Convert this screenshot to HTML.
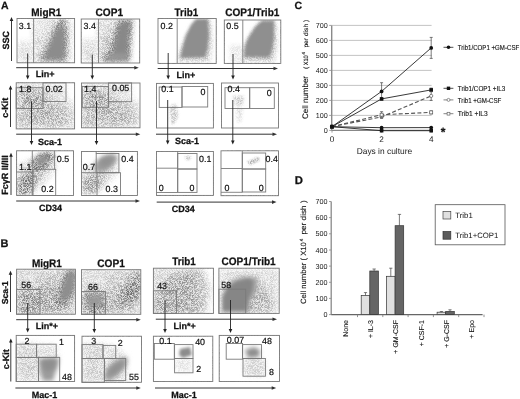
<!DOCTYPE html><html><head><meta charset="utf-8"><style>html,body{margin:0;padding:0;background:#fff;}svg{display:block;font-family:"Liberation Sans",sans-serif;-webkit-font-smoothing:antialiased;text-rendering:geometricPrecision;filter:grayscale(1);}</style></head><body>
<svg width="520" height="399" viewBox="0 0 520 399">
<rect width="520" height="399" fill="#fff"/>
<defs><filter id="spk" x="0" y="0" width="100%" height="100%" color-interpolation-filters="sRGB"><feTurbulence type="fractalNoise" baseFrequency="2.2" numOctaves="1" seed="7" result="t"/><feColorMatrix in="t" type="matrix" values="4 0 0 0 -1.5  4 0 0 0 -1.5  4 0 0 0 -1.5  0 0 0 0 1" result="n0"/><feGaussianBlur in="n0" stdDeviation="0.35" result="n"/><feComposite in="SourceGraphic" in2="n" operator="arithmetic" k1="-1.25" k2="1.625" k3="1.25" k4="-0.625"/></filter><filter id="b10" x="-50%" y="-50%" width="200%" height="200%"><feGaussianBlur stdDeviation="1.0"/></filter><filter id="b12" x="-50%" y="-50%" width="200%" height="200%"><feGaussianBlur stdDeviation="1.2"/></filter><filter id="b15" x="-50%" y="-50%" width="200%" height="200%"><feGaussianBlur stdDeviation="1.5"/></filter><filter id="b16" x="-50%" y="-50%" width="200%" height="200%"><feGaussianBlur stdDeviation="1.6"/></filter><filter id="b18" x="-50%" y="-50%" width="200%" height="200%"><feGaussianBlur stdDeviation="1.8"/></filter><filter id="b20" x="-50%" y="-50%" width="200%" height="200%"><feGaussianBlur stdDeviation="2.0"/></filter><filter id="b22" x="-50%" y="-50%" width="200%" height="200%"><feGaussianBlur stdDeviation="2.2"/></filter><filter id="b25" x="-50%" y="-50%" width="200%" height="200%"><feGaussianBlur stdDeviation="2.5"/></filter><filter id="b30" x="-50%" y="-50%" width="200%" height="200%"><feGaussianBlur stdDeviation="3.0"/></filter></defs>
<text x="0.9" y="8.6" font-size="10.5" font-weight="bold" text-anchor="start" fill="#111" stroke="#111" stroke-width="0.25">A</text>
<text x="46.3" y="15.6" font-size="10.9" font-weight="bold" text-anchor="middle" fill="#111" stroke="#111" stroke-width="0.25" textLength="30.0" lengthAdjust="spacingAndGlyphs">MigR1</text>
<text x="109.3" y="15.6" font-size="10.9" font-weight="bold" text-anchor="middle" fill="#111" stroke="#111" stroke-width="0.25" textLength="27.6" lengthAdjust="spacingAndGlyphs">COP1</text>
<text x="186.4" y="15.6" font-size="10.9" font-weight="bold" text-anchor="middle" fill="#111" stroke="#111" stroke-width="0.25" textLength="23.6" lengthAdjust="spacingAndGlyphs">Trib1</text>
<text x="252.3" y="15.6" font-size="10.9" font-weight="bold" text-anchor="middle" fill="#111" stroke="#111" stroke-width="0.25" textLength="54.2" lengthAdjust="spacingAndGlyphs">COP1/Trib1</text>
<clipPath id="c1"><rect x="17" y="18.5" width="57.599999999999994" height="44.3"/></clipPath>
<g clip-path="url(#c1)"><g filter="url(#spk)"><rect x="17" y="18.5" width="57.599999999999994" height="44.3" fill="#fff"/>
<path d="M34,19 L60,19 L70,30 L70,62 L34,62Z" fill="#dcdcdc" opacity="1" filter="url(#b30)"/>
<path d="M34,19 L50,19 L46,32 L34,36Z" fill="#ececec" opacity="1" filter="url(#b30)"/>
<path d="M66,19 L74,19 L74,40 L70,36Z" fill="#f2f2f2" opacity="1" filter="url(#b20)"/>
<path d="M18,42 L33,42 L33,62 L18,62Z" fill="#e6e6e6" opacity="1" filter="url(#b30)"/>
<path d="M38,61 L44,52 L50,40 L55,28 L58,19 L67,19 L68,35 L67,50 L66,61Z" fill="#adadad" opacity="1" filter="url(#b25)"/>
</g>
<path d="M43,60 L47,50 L51,40 L55,31 L60,25 L64,25 L65,38 L65,52 L64,60Z" fill="#8c8c8c" opacity="1" filter="url(#b20)"/>
</g>
<clipPath id="c2"><rect x="81.2" y="19" width="58.499999999999986" height="44"/></clipPath>
<g clip-path="url(#c2)"><g filter="url(#spk)"><rect x="81.2" y="19" width="58.499999999999986" height="44" fill="#fff"/>
<path d="M99,19 L122,19 L116,45 L112,62 L99,62Z" fill="#d4d4d4" opacity="1" filter="url(#b30)"/>
<path d="M99,19 L112,19 L108,34 L99,36Z" fill="#e6e6e6" opacity="1" filter="url(#b30)"/>
<path d="M82,40 L98,40 L98,62 L82,62Z" fill="#e2e2e2" opacity="1" filter="url(#b30)"/>
<path d="M100,61 L108,52 L112,40 L116,28 L119,19 L133,19 L132,35 L130,61Z" fill="#a8a8a8" opacity="1" filter="url(#b25)"/>
</g>
<path d="M112,58 L114,45 L117,32 L120,22 L131,21 L129,35 L128,50 L127,58Z" fill="#888888" opacity="1" filter="url(#b20)"/>
<path d="M103,61 L107,56 L114,53 L128,53 L128,61Z" fill="#959595" opacity="1" filter="url(#b20)"/>
</g>
<clipPath id="c3"><rect x="158" y="18.5" width="58.19999999999999" height="44.9"/></clipPath>
<g clip-path="url(#c3)"><g filter="url(#spk)"><rect x="158" y="18.5" width="58.19999999999999" height="44.9" fill="#fff"/>
<path d="M178,62 L180,50 L186,36 L194,24 L198,19 L211,19 L212,45 L210,62Z" fill="#dadada" opacity="1" filter="url(#b20)"/>
</g>
<path d="M180,58 L183,45 L186,35 L191,25 L196,19 L208,19 L209,35 L207.5,50 L205,57.5Z" fill="#8e8e8e" opacity="1" filter="url(#b16)"/>
</g>
<clipPath id="c4"><rect x="224.3" y="20" width="56.5" height="43.4"/></clipPath>
<g clip-path="url(#c4)"><g filter="url(#spk)"><rect x="224.3" y="20" width="56.5" height="43.4" fill="#fff"/>
<path d="M240,62 L244,46 L252,32 L260,22 L276,21 L277,45 L274,62Z" fill="#d6d6d6" opacity="1" filter="url(#b20)"/>
<path d="M230,45 L242,45 L242,62 L230,62Z" fill="#efefef" opacity="1" filter="url(#b20)"/>
</g>
<path d="M244,57 L245,46 L248,38 L255,27 L262,20.5 L274,20.5 L274,40 L271,55 L268,57.5Z" fill="#8f8f8f" opacity="1" filter="url(#b18)"/>
</g>
<rect x="17.0" y="18.5" width="57.6" height="44.3" fill="none" stroke="#7a7a7a" stroke-width="0.9"/>
<line x1="33.6" y1="18.5" x2="33.6" y2="62.8" stroke="#7a7a7a" stroke-width="0.9" />
<rect x="81.2" y="19.0" width="58.5" height="44.0" fill="none" stroke="#7a7a7a" stroke-width="0.9"/>
<line x1="98.5" y1="19.0" x2="98.5" y2="63.0" stroke="#7a7a7a" stroke-width="0.9" />
<rect x="158.0" y="18.5" width="58.2" height="44.9" fill="none" stroke="#7a7a7a" stroke-width="0.9"/>
<line x1="177.2" y1="18.5" x2="177.2" y2="63.4" stroke="#7a7a7a" stroke-width="0.9" />
<rect x="224.3" y="20.0" width="56.5" height="43.4" fill="none" stroke="#7a7a7a" stroke-width="0.9"/>
<line x1="242.8" y1="20.0" x2="242.8" y2="63.4" stroke="#7a7a7a" stroke-width="0.9" />
<text x="18.8" y="28.6" font-size="8.9" fill="#111" stroke="#111" stroke-width="0.2">3.1</text>
<text x="83.6" y="28.6" font-size="8.9" fill="#111" stroke="#111" stroke-width="0.2">3.4</text>
<text x="160.6" y="28.6" font-size="8.9" fill="#111" stroke="#111" stroke-width="0.2">0.2</text>
<text x="226.3" y="29.2" font-size="8.9" fill="#111" stroke="#111" stroke-width="0.2">0.5</text>
<line x1="11.5" y1="61.0" x2="11.5" y2="20.0" stroke="#222" stroke-width="0.9" />
<path d="M9.7,21.0 L13.3,21.0 L11.5,17.0Z" fill="#222"/>
<text transform="translate(5.4,40.3) rotate(-90)" x="0" y="3.24" font-size="9" font-weight="bold" text-anchor="middle" fill="#111" stroke="#111" stroke-width="0.25">SSC</text>
<line x1="16.2" y1="67.7" x2="135.8" y2="67.7" stroke="#333" stroke-width="1.0" />
<path d="M134.3,65.9 L134.3,69.5 L138.8,67.7Z" fill="#333"/>
<line x1="157.7" y1="68.5" x2="275.0" y2="68.5" stroke="#333" stroke-width="1.0" />
<path d="M273.5,66.7 L273.5,70.3 L278.0,68.5Z" fill="#333"/>
<text x="45.2" y="77.4" font-size="9" font-weight="bold" text-anchor="middle" fill="#111" stroke="#111" stroke-width="0.25">Lin+</text>
<text x="186.0" y="77.7" font-size="9" font-weight="bold" text-anchor="middle" fill="#111" stroke="#111" stroke-width="0.25">Lin+</text>
<line x1="27.7" y1="53.5" x2="27.7" y2="76.5" stroke="#222" stroke-width="0.9" />
<path d="M25.9,75.5 L29.5,75.5 L27.7,79.5Z" fill="#222"/>
<line x1="92.3" y1="54.6" x2="92.3" y2="76.5" stroke="#222" stroke-width="0.9" />
<path d="M90.5,75.5 L94.1,75.5 L92.3,79.5Z" fill="#222"/>
<line x1="168.2" y1="53.0" x2="168.2" y2="76.5" stroke="#222" stroke-width="0.9" />
<path d="M166.4,75.5 L170.0,75.5 L168.2,79.5Z" fill="#222"/>
<line x1="233.0" y1="54.0" x2="233.0" y2="76.5" stroke="#222" stroke-width="0.9" />
<path d="M231.2,75.5 L234.8,75.5 L233.0,79.5Z" fill="#222"/>
<clipPath id="c5"><rect x="16.2" y="82.8" width="58.39999999999999" height="46.10000000000001"/></clipPath>
<g clip-path="url(#c5)"><g filter="url(#spk)"><rect x="16.2" y="82.8" width="58.39999999999999" height="46.10000000000001" fill="#fff"/>
<path d="M17,84 L44,84 L60,96 L74,104 L74,128 L17,128Z" fill="#dcdcdc" opacity="1" filter="url(#b30)"/>
<path d="M44,84 L66,84 L66,100 L50,96Z" fill="#e6e6e6" opacity="1" filter="url(#b30)"/>
<path d="M18,90 L42,90 L52,102 L66,110 L72,120 L62,126 L18,126Z" fill="#cdcdcd" opacity="1" filter="url(#b30)"/>
<path d="M21,94 L40,93 L42,106 L24,108Z" fill="#b6b6b6" opacity="1" filter="url(#b25)"/>
<path d="M30,106 L48,104 L62,114 L58,122 L36,120Z" fill="#c4c4c4" opacity="1" filter="url(#b30)"/>
</g>
</g>
<clipPath id="c6"><rect x="81.5" y="83" width="58.5" height="44.8"/></clipPath>
<g clip-path="url(#c6)"><g filter="url(#spk)"><rect x="81.5" y="83" width="58.5" height="44.8" fill="#fff"/>
<path d="M82,84 L109,84 L125,96 L139,104 L139,127 L82,127Z" fill="#dcdcdc" opacity="1" filter="url(#b30)"/>
<path d="M109,84 L131,84 L131,100 L115,96Z" fill="#e6e6e6" opacity="1" filter="url(#b30)"/>
<path d="M83,90 L107,90 L117,102 L131,110 L137,120 L127,126 L83,126Z" fill="#cdcdcd" opacity="1" filter="url(#b30)"/>
<path d="M86,94 L105,93 L107,106 L89,108Z" fill="#b6b6b6" opacity="1" filter="url(#b25)"/>
<path d="M95,106 L113,104 L127,114 L123,122 L101,120Z" fill="#c4c4c4" opacity="1" filter="url(#b30)"/>
</g>
</g>
<clipPath id="c7"><rect x="156.5" y="83.4" width="56.900000000000006" height="44.599999999999994"/></clipPath>
<g clip-path="url(#c7)"><g filter="url(#spk)"><rect x="156.5" y="83.4" width="56.900000000000006" height="44.599999999999994" fill="#fff"/>
<path d="M170,106 L176,104 L178,116 L174,124 L171,124Z" fill="#d6d6d6" opacity="1" filter="url(#b15)"/>
</g>
</g>
<clipPath id="c8"><rect x="221.5" y="83" width="57.0" height="45"/></clipPath>
<g clip-path="url(#c8)"><g filter="url(#spk)"><rect x="221.5" y="83" width="57.0" height="45" fill="#fff"/>
<path d="M233,96 L244,96 L243,105 L235,106Z" fill="#dcdcdc" opacity="1" filter="url(#b15)"/>
<path d="M236,108 L243,108 L241,122 L237,122Z" fill="#e8e8e8" opacity="1" filter="url(#b15)"/>
</g>
</g>
<rect x="16.2" y="82.8" width="58.4" height="46.1" fill="none" stroke="#7a7a7a" stroke-width="0.9"/>
<rect x="16.2" y="87.7" width="26.8" height="20.8" fill="none" stroke="#7a7a7a" stroke-width="0.9"/>
<rect x="43.0" y="82.8" width="23.0" height="18.7" fill="none" stroke="#7a7a7a" stroke-width="0.9"/>
<rect x="81.5" y="83.0" width="58.5" height="44.8" fill="none" stroke="#7a7a7a" stroke-width="0.9"/>
<rect x="82.3" y="86.5" width="26.2" height="20.8" fill="none" stroke="#7a7a7a" stroke-width="0.9"/>
<rect x="108.4" y="82.9" width="23.2" height="18.8" fill="none" stroke="#7a7a7a" stroke-width="0.9"/>
<rect x="156.5" y="83.4" width="56.9" height="44.6" fill="none" stroke="#7a7a7a" stroke-width="0.9"/>
<rect x="159.2" y="87.0" width="22.8" height="20.4" fill="none" stroke="#7a7a7a" stroke-width="0.9"/>
<rect x="182.0" y="86.5" width="25.7" height="20.5" fill="none" stroke="#7a7a7a" stroke-width="0.9"/>
<rect x="221.5" y="83.0" width="57.0" height="45.0" fill="none" stroke="#7a7a7a" stroke-width="0.9"/>
<rect x="225.0" y="87.7" width="24.7" height="20.8" fill="none" stroke="#7a7a7a" stroke-width="0.9"/>
<rect x="249.7" y="87.7" width="24.6" height="20.8" fill="none" stroke="#7a7a7a" stroke-width="0.9"/>
<text x="19.0" y="92.3" font-size="8.9" fill="#111" stroke="#111" stroke-width="0.2">1.8</text>
<text x="45.5" y="92.0" font-size="8.9" fill="#111" stroke="#111" stroke-width="0.2">0.02</text>
<text x="84.0" y="92.2" font-size="8.9" fill="#111" stroke="#111" stroke-width="0.2">1.4</text>
<text x="112.0" y="90.8" font-size="8.9" fill="#111" stroke="#111" stroke-width="0.2">0.05</text>
<text x="161.3" y="92.0" font-size="8.9" fill="#111" stroke="#111" stroke-width="0.2">0.1</text>
<text x="200.6" y="94.6" font-size="8.9" fill="#111" stroke="#111" stroke-width="0.2">0</text>
<text x="227.5" y="92.3" font-size="8.9" fill="#111" stroke="#111" stroke-width="0.2">0.4</text>
<text x="266.8" y="95.7" font-size="8.9" fill="#111" stroke="#111" stroke-width="0.2">0</text>
<line x1="10.5" y1="127.0" x2="10.5" y2="88.4" stroke="#222" stroke-width="0.9" />
<path d="M8.7,89.4 L12.3,89.4 L10.5,85.4Z" fill="#222"/>
<text transform="translate(5.2,107.7) rotate(-90)" x="0" y="3.24" font-size="9" font-weight="bold" text-anchor="middle" fill="#111" stroke="#111" stroke-width="0.25">c-Kit</text>
<line x1="16.2" y1="134.2" x2="137.3" y2="134.2" stroke="#333" stroke-width="1.0" />
<path d="M135.8,132.4 L135.8,136.0 L140.3,134.2Z" fill="#333"/>
<line x1="156.0" y1="134.2" x2="274.0" y2="134.2" stroke="#333" stroke-width="1.0" />
<path d="M272.5,132.4 L272.5,136.0 L277.0,134.2Z" fill="#333"/>
<text x="50.0" y="144.6" font-size="9" font-weight="bold" text-anchor="middle" fill="#111" stroke="#111" stroke-width="0.25">Sca-1</text>
<text x="187.0" y="143.9" font-size="9" font-weight="bold" text-anchor="middle" fill="#111" stroke="#111" stroke-width="0.25">Sca-1</text>
<line x1="31.5" y1="101.5" x2="31.5" y2="142.0" stroke="#222" stroke-width="0.9" />
<path d="M29.7,141.0 L33.3,141.0 L31.5,145.0Z" fill="#222"/>
<line x1="96.5" y1="101.0" x2="96.5" y2="142.0" stroke="#222" stroke-width="0.9" />
<path d="M94.7,141.0 L98.3,141.0 L96.5,145.0Z" fill="#222"/>
<line x1="167.7" y1="100.0" x2="167.7" y2="141.5" stroke="#222" stroke-width="0.9" />
<path d="M165.9,140.5 L169.5,140.5 L167.7,144.5Z" fill="#222"/>
<line x1="232.8" y1="100.0" x2="232.8" y2="141.5" stroke="#222" stroke-width="0.9" />
<path d="M231.0,140.5 L234.6,140.5 L232.8,144.5Z" fill="#222"/>
<clipPath id="c9"><rect x="16.6" y="150.8" width="56.9" height="44.69999999999999"/></clipPath>
<g clip-path="url(#c9)"><g filter="url(#spk)"><rect x="16.6" y="150.8" width="56.9" height="44.69999999999999" fill="#fff"/>
<path d="M18,165 L54,152 L56,170 L36,190 L18,195Z" fill="#e0e0e0" opacity="1" filter="url(#b30)"/>
<path d="M24,182 L32,170 L40,166 L42,176 L34,186Z" fill="#c4c4c4" opacity="1" filter="url(#b25)"/>
<path d="M31,161 L39,154 L50,152 L55,155 L51,164 L42,171 L32,171Z" fill="#a2a2a2" opacity="1" filter="url(#b22)"/>
<path d="M18,178 L32,172 L35,184 L30,195 L18,195Z" fill="#a6a6a6" opacity="1" filter="url(#b25)"/>
</g>
<path d="M35,159 L44,154 L50,156 L46,164 L38,166Z" fill="#939393" opacity="1" filter="url(#b20)"/>
</g>
<clipPath id="c10"><rect x="81.5" y="151.5" width="55.900000000000006" height="44.0"/></clipPath>
<g clip-path="url(#c10)"><g filter="url(#spk)"><rect x="81.5" y="151.5" width="55.900000000000006" height="44.0" fill="#fff"/>
<path d="M82,170 L114,154 L118,172 L100,190 L82,195Z" fill="#e0e0e0" opacity="1" filter="url(#b30)"/>
<path d="M88,184 L96,174 L104,170 L106,180 L98,188Z" fill="#cacaca" opacity="1" filter="url(#b25)"/>
<path d="M83,178 L97,174 L100,186 L94,194 L83,192Z" fill="#bcbcbc" opacity="1" filter="url(#b25)"/>
</g>
<path d="M95,163 L103,156 L114,154 L118,158 L113,166 L104,172 L95,172Z" fill="#9e9e9e" opacity="1" filter="url(#b22)"/>
<path d="M100,160 L110,156 L114,159 L108,166 L101,167Z" fill="#929292" opacity="1" filter="url(#b20)"/>
</g>
<clipPath id="c11"><rect x="156.5" y="151.5" width="56.900000000000006" height="43.900000000000006"/></clipPath>
<g clip-path="url(#c11)"><g filter="url(#spk)"><rect x="156.5" y="151.5" width="56.900000000000006" height="43.900000000000006" fill="#fff"/>
<path d="M185,156 L191,156 L190,160 L186,160Z" fill="#d4d4d4" opacity="1" filter="url(#b10)"/>
</g>
</g>
<clipPath id="c12"><rect x="221" y="150.8" width="57.5" height="44.89999999999998"/></clipPath>
<g clip-path="url(#c12)"><g filter="url(#spk)"><rect x="221" y="150.8" width="57.5" height="44.89999999999998" fill="#fff"/>
<path d="M247,162 L258,157 L260,160 L250,165Z" fill="#c6c6c6" opacity="1" filter="url(#b12)"/>
</g>
</g>
<rect x="16.6" y="150.8" width="56.9" height="44.7" fill="none" stroke="#7a7a7a" stroke-width="0.9"/>
<line x1="32.3" y1="150.8" x2="32.3" y2="195.5" stroke="#7a7a7a" stroke-width="0.9" />
<line x1="54.6" y1="150.8" x2="54.6" y2="169.4" stroke="#7a7a7a" stroke-width="0.9" />
<line x1="16.6" y1="172.0" x2="32.3" y2="172.0" stroke="#7a7a7a" stroke-width="0.9" />
<rect x="33.0" y="169.3" width="22.7" height="26.2" fill="none" stroke="#7a7a7a" stroke-width="0.9"/>
<rect x="81.5" y="151.5" width="55.9" height="44.0" fill="none" stroke="#7a7a7a" stroke-width="0.9"/>
<rect x="96.2" y="153.5" width="22.7" height="19.2" fill="none" stroke="#7a7a7a" stroke-width="0.9"/>
<rect x="97.0" y="172.7" width="23.5" height="22.8" fill="none" stroke="#7a7a7a" stroke-width="0.9"/>
<line x1="81.5" y1="172.7" x2="96.2" y2="172.7" stroke="#7a7a7a" stroke-width="0.9" />
<line x1="96.2" y1="151.5" x2="96.2" y2="153.5" stroke="#7a7a7a" stroke-width="0.9" />
<rect x="156.5" y="151.5" width="56.9" height="43.9" fill="none" stroke="#7a7a7a" stroke-width="0.9"/>
<line x1="177.7" y1="151.5" x2="177.7" y2="192.4" stroke="#7a7a7a" stroke-width="0.9" />
<line x1="156.5" y1="168.2" x2="177.7" y2="168.2" stroke="#7a7a7a" stroke-width="0.9" />
<rect x="177.7" y="153.5" width="19.3" height="15.5" fill="none" stroke="#7a7a7a" stroke-width="0.9"/>
<rect x="177.7" y="169.0" width="19.3" height="23.4" fill="none" stroke="#7a7a7a" stroke-width="0.9"/>
<line x1="156.5" y1="192.5" x2="177.7" y2="192.5" stroke="#7a7a7a" stroke-width="0.9" />
<rect x="221.0" y="150.8" width="57.5" height="44.9" fill="none" stroke="#7a7a7a" stroke-width="0.9"/>
<line x1="242.3" y1="150.8" x2="242.3" y2="192.3" stroke="#7a7a7a" stroke-width="0.9" />
<line x1="221.0" y1="168.5" x2="242.3" y2="168.5" stroke="#7a7a7a" stroke-width="0.9" />
<rect x="242.3" y="153.0" width="23.4" height="16.0" fill="none" stroke="#7a7a7a" stroke-width="0.9"/>
<rect x="242.3" y="169.0" width="23.4" height="23.0" fill="none" stroke="#7a7a7a" stroke-width="0.9"/>
<line x1="221.0" y1="192.3" x2="242.3" y2="192.3" stroke="#7a7a7a" stroke-width="0.9" />
<text x="19.0" y="169.6" font-size="8.9" fill="#111" stroke="#111" stroke-width="0.2">1.1</text>
<text x="56.8" y="162.0" font-size="8.9" fill="#111" stroke="#111" stroke-width="0.2">0.5</text>
<text x="41.3" y="192.0" font-size="8.9" fill="#111" stroke="#111" stroke-width="0.2">0.2</text>
<text x="82.8" y="170.0" font-size="8.9" fill="#111" stroke="#111" stroke-width="0.2">0.7</text>
<text x="121.3" y="162.0" font-size="8.9" fill="#111" stroke="#111" stroke-width="0.2">0.4</text>
<text x="105.5" y="191.5" font-size="8.9" fill="#111" stroke="#111" stroke-width="0.2">0.3</text>
<text x="199.0" y="162.3" font-size="8.9" fill="#111" stroke="#111" stroke-width="0.2">0.1</text>
<text x="158.8" y="190.8" font-size="8.9" fill="#111" stroke="#111" stroke-width="0.2">0</text>
<text x="189.5" y="190.8" font-size="8.9" fill="#111" stroke="#111" stroke-width="0.2">0</text>
<text x="265.5" y="161.5" font-size="8.9" fill="#111" stroke="#111" stroke-width="0.2">0.4</text>
<text x="224.4" y="190.8" font-size="8.9" fill="#111" stroke="#111" stroke-width="0.2">0</text>
<text x="258.8" y="190.8" font-size="8.9" fill="#111" stroke="#111" stroke-width="0.2">0</text>
<line x1="11.0" y1="195.0" x2="11.0" y2="155.7" stroke="#222" stroke-width="0.9" />
<path d="M9.2,156.7 L12.8,156.7 L11.0,152.7Z" fill="#222"/>
<text transform="translate(4.6,175.0) rotate(-90)" x="0" y="3.24" font-size="9" font-weight="bold" text-anchor="middle" fill="#111" stroke="#111" stroke-width="0.25">Fc&#947;R II/III</text>
<line x1="16.2" y1="201.0" x2="137.0" y2="201.0" stroke="#333" stroke-width="1.0" />
<path d="M135.5,199.2 L135.5,202.8 L140.0,201.0Z" fill="#333"/>
<line x1="156.7" y1="202.1" x2="273.5" y2="202.1" stroke="#333" stroke-width="1.0" />
<path d="M272.0,200.3 L272.0,203.9 L276.5,202.1Z" fill="#333"/>
<text x="50.4" y="210.8" font-size="9" font-weight="bold" text-anchor="middle" fill="#111" stroke="#111" stroke-width="0.25">CD34</text>
<text x="183.3" y="212.0" font-size="9" font-weight="bold" text-anchor="middle" fill="#111" stroke="#111" stroke-width="0.25">CD34</text>
<text x="0.6" y="246.8" font-size="11" font-weight="bold" text-anchor="start" fill="#111" stroke="#111" stroke-width="0.25">B</text>
<text x="46.9" y="267.4" font-size="10.9" font-weight="bold" text-anchor="middle" fill="#111" stroke="#111" stroke-width="0.25" textLength="30.0" lengthAdjust="spacingAndGlyphs">MigR1</text>
<text x="111.1" y="266.6" font-size="10.9" font-weight="bold" text-anchor="middle" fill="#111" stroke="#111" stroke-width="0.25" textLength="27.6" lengthAdjust="spacingAndGlyphs">COP1</text>
<text x="184.0" y="265.3" font-size="10.9" font-weight="bold" text-anchor="middle" fill="#111" stroke="#111" stroke-width="0.25" textLength="23.6" lengthAdjust="spacingAndGlyphs">Trib1</text>
<text x="248.6" y="265.4" font-size="10.9" font-weight="bold" text-anchor="middle" fill="#111" stroke="#111" stroke-width="0.25" textLength="54.2" lengthAdjust="spacingAndGlyphs">COP1/Trib1</text>
<clipPath id="c13"><rect x="16.6" y="269.2" width="58.800000000000004" height="45.0"/></clipPath>
<g clip-path="url(#c13)"><g filter="url(#spk)"><rect x="16.6" y="269.2" width="58.800000000000004" height="45.0" fill="#fff"/>
<path d="M17,270 L75,270 L75,314 L17,314Z" fill="#d2d2d2" opacity="1" filter="url(#b30)"/>
<path d="M17,270 L40,270 L36,285 L17,288Z" fill="#e2e2e2" opacity="1" filter="url(#b30)"/>
<path d="M18,292 L40,290 L44,313 L18,313Z" fill="#b2b2b2" opacity="1" filter="url(#b30)"/>
<path d="M38,285 L58,286 L60,312 L40,312Z" fill="#bebebe" opacity="1" filter="url(#b30)"/>
<path d="M54,308 L57,294 L62,280 L66,270 L75,270 L75,290 L70,302 L64,310Z" fill="#a6a6a6" opacity="1" filter="url(#b30)"/>
</g>
<path d="M59,303 L61,290 L65,278 L69,270 L75,271 L75,286 L70,298Z" fill="#8e8e8e" opacity="1" filter="url(#b22)"/>
</g>
<clipPath id="c14"><rect x="81.5" y="269.7" width="59.30000000000001" height="44.60000000000002"/></clipPath>
<g clip-path="url(#c14)"><g filter="url(#spk)"><rect x="81.5" y="269.7" width="59.30000000000001" height="44.60000000000002" fill="#fff"/>
<path d="M82,270 L141,270 L141,314 L82,314Z" fill="#d6d6d6" opacity="1" filter="url(#b30)"/>
<path d="M82,270 L110,270 L104,285 L82,288Z" fill="#e4e4e4" opacity="1" filter="url(#b30)"/>
<path d="M83,293 L104,292 L106,313 L83,313Z" fill="#a4a4a4" opacity="1" filter="url(#b30)"/>
<path d="M106,300 L115,290 L125,282 L135,272 L141,272 L141,295 L130,310 L110,312Z" fill="#c2c2c2" opacity="1" filter="url(#b30)"/>
<path d="M119,304 L124,290 L131,280 L138,272 L141,274 L140,290 L132,303Z" fill="#a6a6a6" opacity="1" filter="url(#b25)"/>
</g>
<path d="M86,296 L102,294 L103,306 L88,308Z" fill="#9a9a9a" opacity="1" filter="url(#b25)"/>
</g>
<clipPath id="c15"><rect x="153.4" y="268.2" width="60.0" height="45.19999999999999"/></clipPath>
<g clip-path="url(#c15)"><g filter="url(#spk)"><rect x="153.4" y="268.2" width="60.0" height="45.19999999999999" fill="#fff"/>
<path d="M154,269 L204,269 L210,290 L206,313 L154,313Z" fill="#d0d0d0" opacity="1" filter="url(#b30)"/>
<path d="M154,269 L172,269 L168,286 L154,288Z" fill="#e2e2e2" opacity="1" filter="url(#b30)"/>
<path d="M166,278 L194,272 L198,312 L162,312Z" fill="#bcbcbc" opacity="1" filter="url(#b30)"/>
<path d="M154,295 L176,292 L176,313 L154,313Z" fill="#c0c0c0" opacity="1" filter="url(#b30)"/>
</g>
</g>
<clipPath id="c16"><rect x="218.9" y="268.2" width="60.29999999999998" height="45.19999999999999"/></clipPath>
<g clip-path="url(#c16)"><g filter="url(#spk)"><rect x="218.9" y="268.2" width="60.29999999999998" height="45.19999999999999" fill="#fff"/>
<path d="M219,269 L279,269 L279,313 L219,313Z" fill="#e2e2e2" opacity="1" filter="url(#b30)"/>
<path d="M245,282 L268,288 L272,312 L245,312Z" fill="#c6c6c6" opacity="1" filter="url(#b30)"/>
</g>
<path d="M222,313 L222,296 L227,285 L235,279 L246,276 L258,278 L257,290 L250,302 L249,313Z" fill="#a0a0a0" opacity="1" filter="url(#b20)"/>
<path d="M223.5,310 L223.5,297 L228,288 L236,282 L248,279 L253,281 L252,290 L248,300 L246,310Z" fill="#868686" opacity="1" filter="url(#b18)"/>
</g>
<rect x="16.6" y="269.2" width="58.8" height="45.0" fill="none" stroke="#7a7a7a" stroke-width="0.9"/>
<rect x="16.6" y="289.5" width="23.4" height="24.7" fill="none" stroke="#7a7a7a" stroke-width="0.9"/>
<rect x="81.5" y="269.7" width="59.3" height="44.6" fill="none" stroke="#7a7a7a" stroke-width="0.9"/>
<rect x="81.5" y="291.5" width="23.9" height="22.8" fill="none" stroke="#7a7a7a" stroke-width="0.9"/>
<rect x="153.4" y="268.2" width="60.0" height="45.2" fill="none" stroke="#7a7a7a" stroke-width="0.9"/>
<rect x="153.4" y="290.8" width="23.1" height="22.6" fill="none" stroke="#7a7a7a" stroke-width="0.9"/>
<rect x="218.9" y="268.2" width="60.3" height="45.2" fill="none" stroke="#7a7a7a" stroke-width="0.9"/>
<rect x="218.9" y="289.2" width="26.8" height="24.2" fill="none" stroke="#7a7a7a" stroke-width="0.9"/>
<text x="21.3" y="288.0" font-size="8.9" fill="#111" stroke="#111" stroke-width="0.2">56</text>
<text x="88.0" y="290.3" font-size="8.9" fill="#111" stroke="#111" stroke-width="0.2">66</text>
<text x="157.2" y="289.2" font-size="8.9" fill="#111" stroke="#111" stroke-width="0.2">43</text>
<text x="221.3" y="287.7" font-size="8.9" fill="#111" stroke="#111" stroke-width="0.2">58</text>
<line x1="10.5" y1="312.0" x2="10.5" y2="273.8" stroke="#222" stroke-width="0.9" />
<path d="M8.7,274.8 L12.3,274.8 L10.5,270.8Z" fill="#222"/>
<text transform="translate(4.6,292.7) rotate(-90)" x="0" y="3.13" font-size="8.7" font-weight="bold" text-anchor="middle" fill="#111" stroke="#111" stroke-width="0.25">Sca-1</text>
<line x1="16.2" y1="319.7" x2="137.8" y2="319.7" stroke="#333" stroke-width="1.0" />
<path d="M136.3,317.9 L136.3,321.5 L140.8,319.7Z" fill="#333"/>
<line x1="155.8" y1="319.2" x2="274.0" y2="319.2" stroke="#333" stroke-width="1.0" />
<path d="M272.5,317.4 L272.5,321.0 L277.0,319.2Z" fill="#333"/>
<text x="47.0" y="329.0" font-size="9" font-weight="bold" text-anchor="middle" fill="#111" stroke="#111" stroke-width="0.25">Lin*+</text>
<text x="184.6" y="329.2" font-size="9" font-weight="bold" text-anchor="middle" fill="#111" stroke="#111" stroke-width="0.25">Lin*+</text>
<line x1="27.7" y1="303.0" x2="27.7" y2="329.5" stroke="#222" stroke-width="0.9" />
<path d="M25.9,328.5 L29.5,328.5 L27.7,332.5Z" fill="#222"/>
<line x1="94.3" y1="303.0" x2="94.3" y2="330.0" stroke="#222" stroke-width="0.9" />
<path d="M92.5,329.0 L96.1,329.0 L94.3,333.0Z" fill="#222"/>
<line x1="165.0" y1="300.0" x2="165.0" y2="330.0" stroke="#222" stroke-width="0.9" />
<path d="M163.2,329.0 L166.8,329.0 L165.0,333.0Z" fill="#222"/>
<line x1="230.5" y1="300.0" x2="230.5" y2="330.0" stroke="#222" stroke-width="0.9" />
<path d="M228.7,329.0 L232.3,329.0 L230.5,333.0Z" fill="#222"/>
<clipPath id="c17"><rect x="16.2" y="335.4" width="58.39999999999999" height="46.10000000000002"/></clipPath>
<g clip-path="url(#c17)"><g filter="url(#spk)"><rect x="16.2" y="335.4" width="58.39999999999999" height="46.10000000000002" fill="#fff"/>
<path d="M17,344 L37,344 L40,358 L40,381 L17,381Z" fill="#dadada" opacity="1" filter="url(#b30)"/>
<path d="M37,345 L56,345 L58,358 L37,358Z" fill="#e4e4e4" opacity="1" filter="url(#b30)"/>
</g>
<path d="M39,359 L59,358 L58,366 L55,374 L53,381 L43,381 L40,372Z" fill="#9c9c9c" opacity="1" filter="url(#b20)"/>
<path d="M42,360 L56,359 L54,368 L48,372 L43,368Z" fill="#8e8e8e" opacity="1" filter="url(#b20)"/>
</g>
<clipPath id="c18"><rect x="82" y="336.2" width="59.5" height="46.10000000000002"/></clipPath>
<g clip-path="url(#c18)"><g filter="url(#spk)"><rect x="82" y="336.2" width="59.5" height="46.10000000000002" fill="#fff"/>
<path d="M82,344 L104,344 L106,358 L105,382 L82,382Z" fill="#dcdcdc" opacity="1" filter="url(#b30)"/>
<path d="M103,346 L116,346 L126,358 L126,382 L104,382Z" fill="#e2e2e2" opacity="1" filter="url(#b30)"/>
</g>
<path d="M104,379 L106,369 L113,362 L123,357 L128,358 L126,367 L117,376 L110,381Z" fill="#a0a0a0" opacity="1" filter="url(#b20)"/>
<path d="M107,376 L110,369 L116,364 L123,360 L122,367 L115,374Z" fill="#909090" opacity="1" filter="url(#b20)"/>
</g>
<clipPath id="c19"><rect x="153.4" y="336.2" width="59.400000000000006" height="45.30000000000001"/></clipPath>
<g clip-path="url(#c19)"><g filter="url(#spk)"><rect x="153.4" y="336.2" width="59.400000000000006" height="45.30000000000001" fill="#fff"/>
<path d="M176,359 L192,359 L190,372 L176,372Z" fill="#ececec" opacity="1" filter="url(#b20)"/>
</g>
<path d="M180,349 L190,347 L192,355 L183,358 L179,355Z" fill="#8c8c8c" opacity="1" filter="url(#b18)"/>
</g>
<clipPath id="c20"><rect x="219.2" y="335.4" width="60.30000000000001" height="46.10000000000002"/></clipPath>
<g clip-path="url(#c20)"><g filter="url(#spk)"><rect x="219.2" y="335.4" width="60.30000000000001" height="46.10000000000002" fill="#fff"/>
<path d="M244,359 L265,359 L265,376 L244,376Z" fill="#e0e0e0" opacity="1" filter="url(#b20)"/>
</g>
<path d="M245,350 L254,347 L260,350 L259,357 L248,358Z" fill="#8e8e8e" opacity="1" filter="url(#b20)"/>
</g>
<rect x="16.2" y="335.4" width="58.4" height="46.1" fill="none" stroke="#7a7a7a" stroke-width="0.9"/>
<rect x="16.2" y="344.2" width="20.4" height="13.2" fill="none" stroke="#7a7a7a" stroke-width="0.9"/>
<rect x="36.6" y="344.2" width="19.6" height="13.2" fill="none" stroke="#7a7a7a" stroke-width="0.9"/>
<rect x="16.2" y="357.4" width="22.3" height="24.1" fill="none" stroke="#7a7a7a" stroke-width="0.9"/>
<rect x="38.5" y="357.4" width="21.2" height="24.1" fill="none" stroke="#7a7a7a" stroke-width="0.9"/>
<rect x="82.0" y="336.2" width="59.5" height="46.1" fill="none" stroke="#7a7a7a" stroke-width="0.9"/>
<rect x="82.0" y="344.6" width="21.0" height="13.9" fill="none" stroke="#7a7a7a" stroke-width="0.9"/>
<rect x="103.0" y="345.4" width="12.7" height="13.1" fill="none" stroke="#7a7a7a" stroke-width="0.9"/>
<rect x="82.0" y="358.5" width="22.4" height="23.8" fill="none" stroke="#7a7a7a" stroke-width="0.9"/>
<rect x="104.4" y="358.5" width="21.3" height="22.0" fill="none" stroke="#7a7a7a" stroke-width="0.9"/>
<rect x="153.4" y="336.2" width="59.4" height="45.3" fill="none" stroke="#7a7a7a" stroke-width="0.9"/>
<rect x="154.3" y="343.5" width="20.0" height="15.7" fill="none" stroke="#7a7a7a" stroke-width="0.9"/>
<rect x="174.6" y="344.6" width="18.4" height="13.9" fill="none" stroke="#7a7a7a" stroke-width="0.9"/>
<rect x="174.6" y="358.5" width="18.4" height="14.3" fill="none" stroke="#7a7a7a" stroke-width="0.9"/>
<rect x="219.2" y="335.4" width="60.3" height="46.1" fill="none" stroke="#7a7a7a" stroke-width="0.9"/>
<rect x="226.2" y="343.5" width="16.4" height="15.7" fill="none" stroke="#7a7a7a" stroke-width="0.9"/>
<rect x="242.6" y="344.6" width="18.9" height="13.9" fill="none" stroke="#7a7a7a" stroke-width="0.9"/>
<rect x="243.0" y="358.5" width="22.4" height="17.7" fill="none" stroke="#7a7a7a" stroke-width="0.9"/>
<text x="24.4" y="343.5" font-size="8.9" fill="#111" stroke="#111" stroke-width="0.2">2</text>
<text x="59.0" y="345.4" font-size="8.9" fill="#111" stroke="#111" stroke-width="0.2">1</text>
<text x="62.1" y="379.5" font-size="8.9" fill="#111" stroke="#111" stroke-width="0.2">48</text>
<text x="91.3" y="343.8" font-size="8.9" fill="#111" stroke="#111" stroke-width="0.2">3</text>
<text x="117.8" y="345.7" font-size="8.9" fill="#111" stroke="#111" stroke-width="0.2">2</text>
<text x="129.0" y="379.5" font-size="8.9" fill="#111" stroke="#111" stroke-width="0.2">55</text>
<text x="159.3" y="343.8" font-size="8.9" fill="#111" stroke="#111" stroke-width="0.2">0.1</text>
<text x="195.2" y="344.6" font-size="8.9" fill="#111" stroke="#111" stroke-width="0.2">40</text>
<text x="196.3" y="371.8" font-size="8.9" fill="#111" stroke="#111" stroke-width="0.2">2</text>
<text x="226.8" y="342.6" font-size="8.9" fill="#111" stroke="#111" stroke-width="0.2">0.07</text>
<text x="262.1" y="343.8" font-size="8.9" fill="#111" stroke="#111" stroke-width="0.2">48</text>
<text x="269.0" y="375.4" font-size="8.9" fill="#111" stroke="#111" stroke-width="0.2">8</text>
<line x1="10.8" y1="381.5" x2="10.8" y2="341.5" stroke="#222" stroke-width="0.9" />
<path d="M9.0,342.5 L12.6,342.5 L10.8,338.5Z" fill="#222"/>
<text transform="translate(5.4,359.2) rotate(-90)" x="0" y="3.24" font-size="9" font-weight="bold" text-anchor="middle" fill="#111" stroke="#111" stroke-width="0.25">c-Kit</text>
<line x1="15.4" y1="388.0" x2="137.8" y2="388.0" stroke="#333" stroke-width="1.0" />
<path d="M136.3,386.2 L136.3,389.8 L140.8,388.0Z" fill="#333"/>
<line x1="155.0" y1="388.0" x2="273.2" y2="388.0" stroke="#333" stroke-width="1.0" />
<path d="M271.7,386.2 L271.7,389.8 L276.2,388.0Z" fill="#333"/>
<text x="44.6" y="397.5" font-size="9" font-weight="bold" text-anchor="middle" fill="#111" stroke="#111" stroke-width="0.25">Mac-1</text>
<text x="184.0" y="397.5" font-size="9" font-weight="bold" text-anchor="middle" fill="#111" stroke="#111" stroke-width="0.25">Mac-1</text>
<text x="294.5" y="8.9" font-size="10.5" font-weight="bold" text-anchor="start" fill="#111" stroke="#111" stroke-width="0.25">C</text>
<line x1="331.7" y1="115.4" x2="431.6" y2="115.4" stroke="#b5b5b5" stroke-width="0.8" />
<line x1="331.7" y1="100.4" x2="431.6" y2="100.4" stroke="#b5b5b5" stroke-width="0.8" />
<line x1="331.7" y1="85.4" x2="431.6" y2="85.4" stroke="#b5b5b5" stroke-width="0.8" />
<line x1="331.7" y1="70.4" x2="431.6" y2="70.4" stroke="#b5b5b5" stroke-width="0.8" />
<line x1="331.7" y1="55.4" x2="431.6" y2="55.4" stroke="#b5b5b5" stroke-width="0.8" />
<line x1="331.7" y1="40.4" x2="431.6" y2="40.4" stroke="#b5b5b5" stroke-width="0.8" />
<line x1="331.7" y1="25.4" x2="431.6" y2="25.4" stroke="#b5b5b5" stroke-width="0.8" />
<line x1="329.2" y1="130.4" x2="331.7" y2="130.4" stroke="#888" stroke-width="0.8" />
<text x="327.8" y="132.9" font-size="7.2" font-weight="normal" text-anchor="end" fill="#1a1a1a" >0</text>
<line x1="329.2" y1="115.4" x2="331.7" y2="115.4" stroke="#888" stroke-width="0.8" />
<text x="327.8" y="117.9" font-size="7.2" font-weight="normal" text-anchor="end" fill="#1a1a1a" >100</text>
<line x1="329.2" y1="100.4" x2="331.7" y2="100.4" stroke="#888" stroke-width="0.8" />
<text x="327.8" y="102.9" font-size="7.2" font-weight="normal" text-anchor="end" fill="#1a1a1a" >200</text>
<line x1="329.2" y1="85.4" x2="331.7" y2="85.4" stroke="#888" stroke-width="0.8" />
<text x="327.8" y="87.9" font-size="7.2" font-weight="normal" text-anchor="end" fill="#1a1a1a" >300</text>
<line x1="329.2" y1="70.4" x2="331.7" y2="70.4" stroke="#888" stroke-width="0.8" />
<text x="327.8" y="72.9" font-size="7.2" font-weight="normal" text-anchor="end" fill="#1a1a1a" >400</text>
<line x1="329.2" y1="55.4" x2="331.7" y2="55.4" stroke="#888" stroke-width="0.8" />
<text x="327.8" y="57.9" font-size="7.2" font-weight="normal" text-anchor="end" fill="#1a1a1a" >500</text>
<line x1="329.2" y1="40.4" x2="331.7" y2="40.4" stroke="#888" stroke-width="0.8" />
<text x="327.8" y="42.9" font-size="7.2" font-weight="normal" text-anchor="end" fill="#1a1a1a" >600</text>
<line x1="329.2" y1="25.4" x2="331.7" y2="25.4" stroke="#888" stroke-width="0.8" />
<text x="327.8" y="27.9" font-size="7.2" font-weight="normal" text-anchor="end" fill="#1a1a1a" >700</text>
<line x1="331.7" y1="25.4" x2="331.7" y2="130.4" stroke="#8a8a8a" stroke-width="1.4" />
<line x1="331.7" y1="130.4" x2="431.6" y2="130.4" stroke="#888" stroke-width="1.2" />
<line x1="332.0" y1="130.4" x2="332.0" y2="132.6" stroke="#888" stroke-width="0.8" />
<text x="332.0" y="142.0" font-size="8.2" font-weight="normal" text-anchor="middle" fill="#222" >0</text>
<line x1="381.6" y1="130.4" x2="381.6" y2="132.6" stroke="#888" stroke-width="0.8" />
<text x="381.6" y="142.0" font-size="8.2" font-weight="normal" text-anchor="middle" fill="#222" >2</text>
<line x1="431.2" y1="130.4" x2="431.2" y2="132.6" stroke="#888" stroke-width="0.8" />
<text x="431.2" y="142.0" font-size="8.2" font-weight="normal" text-anchor="middle" fill="#222" >4</text>
<text x="384.4" y="154.2" font-size="8.4" font-weight="normal" text-anchor="middle" fill="#222" >Days in culture</text>
<g transform="translate(307.8,119.1) rotate(-90)" fill="#111" stroke="#111" stroke-width="0.12"><text x="0" y="0" font-size="8">Cell number</text><text x="50.3" y="0" font-size="6.3" textLength="13.6" lengthAdjust="spacingAndGlyphs">( X10</text><text x="64.6" y="-2.8" font-size="4.5">4</text><text x="71.5" y="0" font-size="6.3" textLength="27.8" lengthAdjust="spacingAndGlyphs">per dish )</text></g>
<polyline points="332.0,126.7 381.6,91.4 431.2,47.9" fill="none" stroke="#222" stroke-width="0.9"/>
<circle cx="332.0" cy="126.7" r="1.9" fill="#111"/>
<line x1="381.6" y1="82.7" x2="381.6" y2="100.1" stroke="#444" stroke-width="0.7" />
<line x1="380.1" y1="82.7" x2="383.1" y2="82.7" stroke="#444" stroke-width="0.7" />
<line x1="380.1" y1="100.1" x2="383.1" y2="100.1" stroke="#444" stroke-width="0.7" />
<circle cx="381.6" cy="91.4" r="1.9" fill="#111"/>
<line x1="431.2" y1="37.4" x2="431.2" y2="58.4" stroke="#444" stroke-width="0.7" />
<line x1="429.7" y1="37.4" x2="432.7" y2="37.4" stroke="#444" stroke-width="0.7" />
<line x1="429.7" y1="58.4" x2="432.7" y2="58.4" stroke="#444" stroke-width="0.7" />
<circle cx="431.2" cy="47.9" r="1.9" fill="#111"/>
<polyline points="332.0,126.7 381.6,98.9 431.2,89.9" fill="none" stroke="#222" stroke-width="0.9"/>
<rect x="330.2" y="124.9" width="3.6" height="3.6" fill="#111"/>
<rect x="379.8" y="97.1" width="3.6" height="3.6" fill="#111"/>
<line x1="431.2" y1="88.1" x2="431.2" y2="91.7" stroke="#444" stroke-width="0.7" />
<line x1="429.7" y1="88.1" x2="432.7" y2="88.1" stroke="#444" stroke-width="0.7" />
<line x1="429.7" y1="91.7" x2="432.7" y2="91.7" stroke="#444" stroke-width="0.7" />
<rect x="429.4" y="88.1" width="3.6" height="3.6" fill="#111"/>
<polyline points="332.0,126.7 381.6,116.9 431.2,95.9" fill="none" stroke="#555" stroke-width="1.1" stroke-dasharray="4,2.2"/>
<circle cx="332.0" cy="126.7" r="1.6" fill="#fff" stroke="#555" stroke-width="0.7"/>
<line x1="381.6" y1="115.4" x2="381.6" y2="118.4" stroke="#444" stroke-width="0.7" />
<line x1="380.1" y1="115.4" x2="383.1" y2="115.4" stroke="#444" stroke-width="0.7" />
<line x1="380.1" y1="118.4" x2="383.1" y2="118.4" stroke="#444" stroke-width="0.7" />
<circle cx="381.6" cy="116.9" r="1.6" fill="#fff" stroke="#555" stroke-width="0.7"/>
<line x1="431.2" y1="91.4" x2="431.2" y2="100.4" stroke="#444" stroke-width="0.7" />
<line x1="429.7" y1="91.4" x2="432.7" y2="91.4" stroke="#444" stroke-width="0.7" />
<line x1="429.7" y1="100.4" x2="432.7" y2="100.4" stroke="#444" stroke-width="0.7" />
<circle cx="431.2" cy="95.9" r="1.6" fill="#fff" stroke="#555" stroke-width="0.7"/>
<polyline points="332.0,126.7 381.6,114.7 431.2,112.4" fill="none" stroke="#555" stroke-width="1.1" stroke-dasharray="4,2.2"/>
<rect x="330.5" y="125.2" width="3" height="3" fill="#fff" stroke="#555" stroke-width="0.7"/>
<line x1="381.6" y1="111.7" x2="381.6" y2="117.7" stroke="#444" stroke-width="0.7" />
<line x1="380.1" y1="111.7" x2="383.1" y2="111.7" stroke="#444" stroke-width="0.7" />
<line x1="380.1" y1="117.7" x2="383.1" y2="117.7" stroke="#444" stroke-width="0.7" />
<rect x="380.1" y="113.2" width="3" height="3" fill="#fff" stroke="#555" stroke-width="0.7"/>
<line x1="431.2" y1="110.9" x2="431.2" y2="113.9" stroke="#444" stroke-width="0.7" />
<line x1="429.7" y1="110.9" x2="432.7" y2="110.9" stroke="#444" stroke-width="0.7" />
<line x1="429.7" y1="113.9" x2="432.7" y2="113.9" stroke="#444" stroke-width="0.7" />
<rect x="429.7" y="110.9" width="3" height="3" fill="#fff" stroke="#555" stroke-width="0.7"/>
<polyline points="332.0,126.7 381.6,127.7 431.2,127.6" fill="none" stroke="#222" stroke-width="0.9"/>
<circle cx="332.0" cy="126.7" r="1.9" fill="#111"/>
<circle cx="381.6" cy="127.7" r="1.9" fill="#111"/>
<circle cx="431.2" cy="127.6" r="1.9" fill="#111"/>
<polyline points="332.0,126.7 381.6,130.7 431.2,130.7" fill="none" stroke="#222" stroke-width="0.9"/>
<rect x="330.2" y="124.9" width="3.6" height="3.6" fill="#111"/>
<rect x="379.8" y="128.9" width="3.6" height="3.6" fill="#111"/>
<rect x="429.4" y="128.9" width="3.6" height="3.6" fill="#111"/>
<line x1="443.5" y1="47.3" x2="453.4" y2="47.3" stroke="#222" stroke-width="0.8" />
<circle cx="448.5" cy="47.3" r="1.8" fill="#111"/>
<text x="457.8" y="49.9" font-size="7.2" fill="#111" stroke="#111" stroke-width="0.12" textLength="61.4" lengthAdjust="spacingAndGlyphs">Trib1/COP1 +GM-CSF</text>
<line x1="443.5" y1="88.3" x2="453.4" y2="88.3" stroke="#222" stroke-width="0.8" />
<rect x="446.8" y="86.6" width="3.4" height="3.4" fill="#111"/>
<text x="457.8" y="90.9" font-size="7.2" fill="#111" stroke="#111" stroke-width="0.12" textLength="47.6" lengthAdjust="spacingAndGlyphs">Trib1/COP1 +IL3</text>
<line x1="443.5" y1="99.9" x2="453.4" y2="99.9" stroke="#666" stroke-width="0.8" />
<circle cx="448.5" cy="99.9" r="1.5" fill="#fff" stroke="#666" stroke-width="0.7"/>
<text x="457.8" y="102.5" font-size="7.2" fill="#111" stroke="#111" stroke-width="0.12" textLength="43.5" lengthAdjust="spacingAndGlyphs">Trib1 +GM-CSF</text>
<line x1="443.5" y1="113.7" x2="453.4" y2="113.7" stroke="#666" stroke-width="0.8" />
<rect x="447.1" y="112.3" width="2.8" height="2.8" fill="#fff" stroke="#666" stroke-width="0.7"/>
<text x="457.8" y="116.3" font-size="7.2" fill="#111" stroke="#111" stroke-width="0.12" textLength="29.8" lengthAdjust="spacingAndGlyphs">Trib1 +IL3</text>
<text x="443.0" y="135.8" font-size="12" font-weight="bold" text-anchor="middle" fill="#111" stroke="#111" stroke-width="0.25">*</text>
<text x="294.7" y="183.8" font-size="11.3" font-weight="bold" text-anchor="start" fill="#111" stroke="#111" stroke-width="0.25">D</text>
<line x1="329.0" y1="314.6" x2="331.2" y2="314.6" stroke="#888" stroke-width="0.8" />
<text x="327.4" y="317.1" font-size="7.2" font-weight="normal" text-anchor="end" fill="#1a1a1a" >0</text>
<line x1="329.0" y1="298.4" x2="331.2" y2="298.4" stroke="#888" stroke-width="0.8" />
<text x="327.4" y="300.9" font-size="7.2" font-weight="normal" text-anchor="end" fill="#1a1a1a" >100</text>
<line x1="329.0" y1="282.3" x2="331.2" y2="282.3" stroke="#888" stroke-width="0.8" />
<text x="327.4" y="284.8" font-size="7.2" font-weight="normal" text-anchor="end" fill="#1a1a1a" >200</text>
<line x1="329.0" y1="266.1" x2="331.2" y2="266.1" stroke="#888" stroke-width="0.8" />
<text x="327.4" y="268.6" font-size="7.2" font-weight="normal" text-anchor="end" fill="#1a1a1a" >300</text>
<line x1="329.0" y1="250.0" x2="331.2" y2="250.0" stroke="#888" stroke-width="0.8" />
<text x="327.4" y="252.5" font-size="7.2" font-weight="normal" text-anchor="end" fill="#1a1a1a" >400</text>
<line x1="329.0" y1="233.8" x2="331.2" y2="233.8" stroke="#888" stroke-width="0.8" />
<text x="327.4" y="236.3" font-size="7.2" font-weight="normal" text-anchor="end" fill="#1a1a1a" >500</text>
<line x1="329.0" y1="217.6" x2="331.2" y2="217.6" stroke="#888" stroke-width="0.8" />
<text x="327.4" y="220.1" font-size="7.2" font-weight="normal" text-anchor="end" fill="#1a1a1a" >600</text>
<line x1="329.0" y1="201.5" x2="331.2" y2="201.5" stroke="#888" stroke-width="0.8" />
<text x="327.4" y="204.0" font-size="7.2" font-weight="normal" text-anchor="end" fill="#1a1a1a" >700</text>
<line x1="331.2" y1="201.5" x2="331.2" y2="314.6" stroke="#8a8a8a" stroke-width="1.3" />
<line x1="331.2" y1="314.6" x2="482.6" y2="314.6" stroke="#666" stroke-width="1.2" />
<line x1="357.5" y1="314.6" x2="357.5" y2="317.1" stroke="#777" stroke-width="0.8" />
<line x1="382.8" y1="314.6" x2="382.8" y2="317.1" stroke="#777" stroke-width="0.8" />
<line x1="408.1" y1="314.6" x2="408.1" y2="317.1" stroke="#777" stroke-width="0.8" />
<line x1="433.4" y1="314.6" x2="433.4" y2="317.1" stroke="#777" stroke-width="0.8" />
<line x1="458.7" y1="314.6" x2="458.7" y2="317.1" stroke="#777" stroke-width="0.8" />
<line x1="484.0" y1="314.6" x2="484.0" y2="317.1" stroke="#777" stroke-width="0.8" />
<rect x="361.2" y="295.4" width="8.6" height="19.2" fill="#e0e0e0" stroke="#333" stroke-width="0.7"/>
<line x1="365.5" y1="295.4" x2="365.5" y2="292.6" stroke="#444" stroke-width="0.7" />
<line x1="363.9" y1="292.6" x2="367.1" y2="292.6" stroke="#444" stroke-width="0.7" />
<rect x="369.8" y="271.0" width="8.6" height="43.6" fill="#656565" stroke="#333" stroke-width="0.7"/>
<line x1="374.1" y1="271.0" x2="374.1" y2="269.0" stroke="#444" stroke-width="0.7" />
<line x1="372.5" y1="269.0" x2="375.8" y2="269.0" stroke="#444" stroke-width="0.7" />
<rect x="386.5" y="276.3" width="8.6" height="38.3" fill="#e0e0e0" stroke="#333" stroke-width="0.7"/>
<line x1="390.8" y1="276.3" x2="390.8" y2="268.2" stroke="#444" stroke-width="0.7" />
<line x1="389.2" y1="268.2" x2="392.4" y2="268.2" stroke="#444" stroke-width="0.7" />
<rect x="395.1" y="225.7" width="8.6" height="88.9" fill="#656565" stroke="#333" stroke-width="0.7"/>
<line x1="399.4" y1="225.7" x2="399.4" y2="214.4" stroke="#444" stroke-width="0.7" />
<line x1="397.8" y1="214.4" x2="401.1" y2="214.4" stroke="#444" stroke-width="0.7" />
<rect x="437.1" y="312.2" width="8.6" height="2.4" fill="#e0e0e0" stroke="#333" stroke-width="0.7"/>
<line x1="441.4" y1="312.2" x2="441.4" y2="311.5" stroke="#444" stroke-width="0.7" />
<line x1="439.8" y1="311.5" x2="443.0" y2="311.5" stroke="#444" stroke-width="0.7" />
<rect x="445.7" y="311.4" width="8.6" height="3.2" fill="#656565" stroke="#333" stroke-width="0.7"/>
<line x1="450.0" y1="311.4" x2="450.0" y2="309.8" stroke="#444" stroke-width="0.7" />
<line x1="448.4" y1="309.8" x2="451.6" y2="309.8" stroke="#444" stroke-width="0.7" />
<text transform="translate(347.6,320) rotate(-90)" font-size="7" text-anchor="end" fill="#111" stroke="#111" stroke-width="0.1">None</text>
<text transform="translate(372.9,320) rotate(-90)" font-size="7" text-anchor="end" fill="#111" stroke="#111" stroke-width="0.1">+ IL-3</text>
<text transform="translate(398.2,320) rotate(-90)" font-size="7" text-anchor="end" fill="#111" stroke="#111" stroke-width="0.1">+ GM-CSF</text>
<text transform="translate(423.6,320) rotate(-90)" font-size="7" text-anchor="end" fill="#111" stroke="#111" stroke-width="0.1">+ CSF-1</text>
<text transform="translate(448.8,320) rotate(-90)" font-size="7" text-anchor="end" fill="#111" stroke="#111" stroke-width="0.1">+ G-CSF</text>
<text transform="translate(474.1,320) rotate(-90)" font-size="7" text-anchor="end" fill="#111" stroke="#111" stroke-width="0.1">+ Epo</text>
<rect x="435.2" y="204.7" width="69.8" height="40.1" fill="none" stroke="#555" stroke-width="0.8"/>
<rect x="443.0" y="211.6" width="7.8" height="7.4" fill="#e0e0e0" stroke="#444" stroke-width="0.7"/>
<rect x="443.0" y="231.5" width="7.8" height="7.7" fill="#5c5c5c" stroke="#333" stroke-width="0.7"/>
<text x="455.3" y="218.2" font-size="7.8" font-weight="normal" text-anchor="start" fill="#111" >Trib1</text>
<text x="455.3" y="238.3" font-size="7.8" fill="#111" textLength="43" lengthAdjust="spacingAndGlyphs">Trib1+COP1</text>
<g transform="translate(305.6,304.1) rotate(-90)" fill="#111" stroke="#111" stroke-width="0.12"><text x="0" y="0" font-size="7.6" textLength="62" lengthAdjust="spacingAndGlyphs">Cell number ( X10</text><text x="62.8" y="-2.8" font-size="4.8">4</text><text x="69.5" y="0" font-size="7.6" textLength="34.3" lengthAdjust="spacingAndGlyphs">per dish )</text></g>
</svg></body></html>
